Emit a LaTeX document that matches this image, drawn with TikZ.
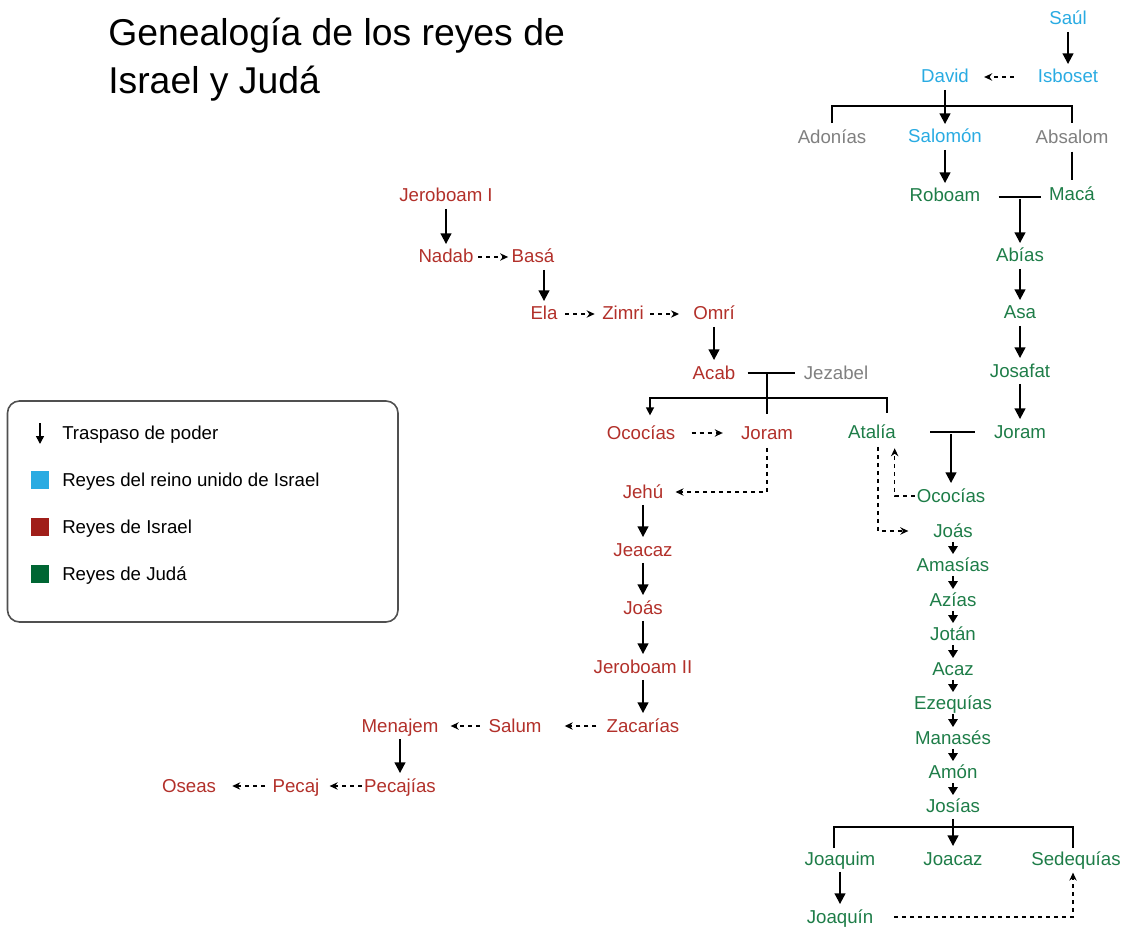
\documentclass[tikz,border=0pt]{standalone}
\usepackage{fontspec}
\setmainfont{Liberation Sans}
\usetikzlibrary{arrows.meta}
\definecolor{kblue}{RGB}{41,171,226}
\definecolor{kred}{RGB}{178,48,42}
\definecolor{kgreen}{RGB}{30,125,72}
\definecolor{kgrey}{RGB}{128,128,128}
\definecolor{swred}{RGB}{160,30,25}
\definecolor{swgreen}{RGB}{0,102,51}
\definecolor{legframe}{RGB}{80,80,80}

\begin{document}
\begin{tikzpicture}[x=0.75pt,y=0.75pt,yscale=-1,xscale=1,
  king/.style={inner sep=1.5pt,font=\fontsize{14}{16}\selectfont,text height=11pt,text depth=2pt},
  united/.style={king,text=kblue},
  israel/.style={king,text=kred},
  juda/.style={king,text=kgreen},
  kin/.style={king,text=kgrey},
  power/.style={line width=1.5pt,-{Triangle[length=8pt,width=8pt]},shorten <=1.5pt,shorten >=1.5pt},
  powershort/.style={line width=1.5pt,-{Triangle[length=6pt,width=7pt]}},
  succ/.style={line width=1pt,dash pattern=on 3pt off 3pt,-{Stealth[length=6pt,width=5.5pt]}},
  tie/.style={line width=1pt},
  swatch/.style={minimum size=13.5pt,inner sep=0pt},
  legtext/.style={anchor=west,inner sep=0pt,font=\fontsize{14}{16}\selectfont,text height=11pt,text depth=2pt}
]
\useasboundingbox (0,0) rectangle (1127,930);

% Title
\node[anchor=base west,inner sep=0pt,font=\fontsize{28}{36}\selectfont] (title1) at (108,46) {Genealogía de los reyes de};
\node[anchor=base west,inner sep=0pt,font=\fontsize{28}{36}\selectfont] (title2) at (108,94) {Israel y Judá};

% Text Node -- reino unido
\node[united] (Saul) at (1068,19) {Saúl};
\node[united] (Isboset) at (1068,77) {Isboset};
\node[united] (David) at (945,77) {David};
\node[united] (Salomon) at (945,137) {Salomón};
\node[kin] (Adonias) at (832,138) {Adonías};
\node[kin] (Absalom) at (1072,138) {Absalom};

% Text Node -- Juda
\node[juda] (Roboam) at (945,196) {Roboam};
\node[juda] (Maca) at (1072,195) {Macá};
\node[juda] (Abias) at (1020,256) {Abías};
\node[juda] (Asa) at (1020,313) {Asa};
\node[juda] (Josafat) at (1020,371) {Josafat};
\node[juda] (JoramJ) at (1020,432) {Joram};
\node[juda] (Atalia) at (872,432) {Atalía};
\node[juda] (OcoJ) at (951,496) {Ococías};
\node[juda] (JoasJ) at (953,531) {Joás};
\node[juda] (Amasias) at (953,565) {Amasías};
\node[juda] (Azias) at (953,600) {Azías};
\node[juda] (Jotan) at (953,634) {Jotán};
\node[juda] (Acaz) at (953,669) {Acaz};
\node[juda] (Ezequias) at (953,703) {Ezequías};
\node[juda] (Manases) at (953,738) {Manasés};
\node[juda] (Amon) at (953,772) {Amón};
\node[juda] (Josias) at (953,806) {Josías};
\node[juda] (Joaquim) at (840,859) {Joaquim};
\node[juda] (Joacaz) at (953,859) {Joacaz};
\node[juda] (Sedequias) at (1076,859) {Sedequías};
\node[juda] (Joaquin) at (840,917) {Joaquín};

% Text Node -- Israel
\node[israel] (JeroboamI) at (446,196) {Jeroboam I};
\node[israel] (Nadab) at (446,257) {Nadab};
\node[israel] (Basa) at (533,257) {Basá};
\node[israel] (Ela) at (544,314) {Ela};
\node[israel] (Zimri) at (623,314) {Zimri};
\node[israel] (Omri) at (714,314) {Omrí};
\node[israel] (Acab) at (714,373) {Acab};
\node[kin] (Jezabel) at (836,373) {Jezabel};
\node[israel] (OcoI) at (641,433) {Ococías};
\node[israel] (JoramI) at (767,433) {Joram};
\node[israel] (Jehu) at (643,492) {Jehú};
\node[israel] (Jeacaz) at (643,550) {Jeacaz};
\node[israel] (JoasI) at (643,608) {Joás};
\node[israel] (JeroboamII) at (643,667) {Jeroboam II};
\node[israel] (Zacarias) at (643,726) {Zacarías};
\node[israel] (Salum) at (515,726) {Salum};
\node[israel] (Menajem) at (400,726) {Menajem};
\node[israel] (Pecajias) at (400,786) {Pecajías};
\node[israel] (Pecaj) at (296,786) {Pecaj};
\node[israel] (Oseas) at (189,786) {Oseas};

% Forks and marriages
\coordinate (fork1) at (945,106);
\coordinate (wed1) at (1020,197);
\coordinate (wed2) at (767,373);
\coordinate (fork2) at (767,398);
\coordinate (wed3) at (951,432);
\coordinate (fork3) at (953,827);

% Straight Lines -- reino unido
\draw[power] (Saul) -- (Isboset);
\draw[succ,shorten <=16.5pt,shorten >=9.75pt] (Isboset) -- (David);
\draw[tie,shorten <=3pt,shorten >=3pt] (Adonias.north) |- (fork1) -| (Absalom.north);
\draw[power] (David) -- (Salomon);
\draw[power] (Salomon) -- (Roboam);
\draw[tie,shorten <=2pt,shorten >=3pt] (Absalom) -- (Maca);

% Straight Lines -- Juda
\draw[tie,shorten <=12pt,shorten >=4.5pt] (Roboam.east |- wed1) -- (Maca.west |- wed1);
\draw[power] (wed1) -- (Abias);
\draw[power] (Abias) -- (Asa);
\draw[power] (Asa) -- (Josafat);
\draw[power] (Josafat) -- (JoramJ);
\draw[tie,shorten <=24pt,shorten >=12.75pt] (Atalia) -- (JoramJ);
\draw[power] (wed3) -- (OcoJ);
\draw[succ,shorten >=4pt] (OcoJ.west) -| ([xshift=17pt]Atalia.south);
\draw[succ,shorten <=3pt,shorten >=17pt] ([xshift=4.5pt]Atalia.south) |- (JoasJ.west);
\draw[powershort] (JoasJ) -- (Amasias);
\draw[powershort] (Amasias) -- (Azias);
\draw[powershort] (Azias) -- (Jotan);
\draw[powershort] (Jotan) -- (Acaz);
\draw[powershort] (Acaz) -- (Ezequias);
\draw[powershort] (Ezequias) -- (Manases);
\draw[powershort] (Manases) -- (Amon);
\draw[powershort] (Amon) -- (Josias);
\draw[tie] ([xshift=-4.5pt]Joaquim.north) |- (fork3) -| ([xshift=-2.25pt]Sedequias.north);
\draw[power] (Josias) -- (Joacaz);
\draw[power] (Joaquim) -- (Joaquin);
\draw[succ,shorten <=14pt,shorten >=2pt] (Joaquin.east) -| ([xshift=-2.25pt]Sedequias.south);

% Straight Lines -- Israel
\draw[power] (JeroboamI) -- (Nadab);
\draw[succ,shorten <=2pt,shorten >=1pt] (Nadab) -- (Basa);
\draw[power] (Basa.south -| Ela.north) -- (Ela);
\draw[succ,shorten <=4pt,shorten >=4pt] (Ela) -- (Zimri);
\draw[succ,shorten <=3pt,shorten >=9pt] (Zimri) -- (Omri);
\draw[power] (Omri) -- (Acab);
\draw[tie,shorten <=7.5pt,shorten >=5pt] (Acab) -- (Jezabel);
\draw[tie,shorten >=6pt] (wed2) -- (JoramI);
\draw[tie,shorten >=5pt,-{Triangle[length=6pt,width=6pt]}] (fork2) -| ([xshift=6.75pt]OcoI.north);
\draw[tie,shorten >=6pt] (fork2) -| ([xshift=11.25pt]Atalia.north);
\draw[succ,shorten <=10.5pt,shorten >=12pt] (OcoI) -- (JoramI);
\draw[succ,shorten <=3pt,shorten >=7.5pt] (JoramI.south) |- (Jehu.east);
\draw[power] (Jehu) -- (Jeacaz);
\draw[power] (Jeacaz) -- (JoasI);
\draw[power] (JoasI) -- (JeroboamII);
\draw[power] (JeroboamII) -- (Zacarias);
\draw[succ,shorten <=6pt,shorten >=15.75pt] (Zacarias) -- (Salum);
\draw[succ,shorten <=5pt,shorten >=7.5pt] (Salum) -- (Menajem);
\draw[power] (Menajem) -- (Pecajias);
\draw[succ,shorten >=6pt] (Pecajias) -- (Pecaj);
\draw[succ,shorten <=4pt,shorten >=10.5pt] (Pecaj) -- (Oseas);

% Legend
\draw[legframe,line width=1.2pt,rounded corners=9pt] (7.5,401) rectangle (398,622);
\coordinate (legArrTop) at (40,423);
\coordinate (legArrEnd) at (40,444);
\draw[line width=1.2pt,-{Triangle[length=6pt,width=6pt]}] (legArrTop) -- (legArrEnd);
\node[legtext] (legPower) at (62,433) {Traspaso de poder};
\node[swatch,fill=kblue] (swBlue) at (40,480) {};
\node[legtext] (legBlue) at (62,480) {Reyes del reino unido de Israel};
\node[swatch,fill=swred] (swRed) at (40,527) {};
\node[legtext] (legRed) at (62,527) {Reyes de Israel};
\node[swatch,fill=swgreen] (swGreen) at (40,574) {};
\node[legtext] (legGreen) at (62,574) {Reyes de Judá};

\end{tikzpicture}
\end{document}
